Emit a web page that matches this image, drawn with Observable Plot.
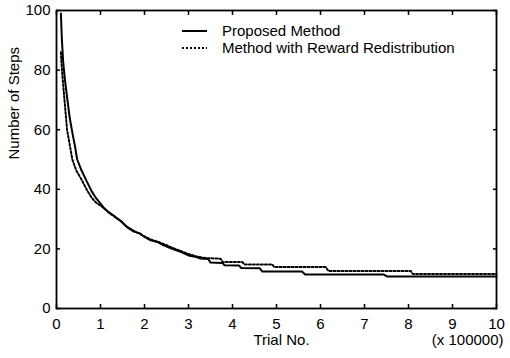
<!DOCTYPE html>
<html><head><meta charset="utf-8">
<script src="https://cdn.jsdelivr.net/npm/d3@7"></script>
<script src="https://cdn.jsdelivr.net/npm/@observablehq/plot@0.6"></script>
<style>body{margin:0;background:#fff}</style>
</head><body><div id="chart"></div>
<script>
// Data
const proposedTrial = [0.10,0.12,0.15,0.19,0.24,0.30,0.36,0.42,0.47,0.57,0.66,0.80,0.90,1.00,1.10,1.20,1.30,1.38,1.45,1.50,1.60,1.76,1.90,2.00,2.14,2.30,2.44,2.60,2.82,3.00,3.15,3.27,3.45,3.50,3.77,3.82,4.15,4.20,4.62,4.68,5.58,5.65,7.44,7.52,10.0];
const proposedSteps = [99,91,83,77,71,64,59,54.5,50,46.3,43.5,39.3,37,35.2,33.3,32.2,31.2,30.2,29.5,28.8,27.3,25.8,25.2,24,22.9,22.3,21.2,20.2,19,17.8,17.4,16.8,16.6,15.4,15.3,14.5,14.4,13.6,13.5,12.4,12.4,11.4,11.4,10.7,10.7];
const redistTrial = [0.10,0.11,0.14,0.17,0.24,0.30,0.36,0.45,0.58,0.70,0.81,0.90,1.00,1.10,1.20,1.30,1.45,1.60,1.76,1.90,2.00,2.14,2.30,2.44,2.60,2.82,3.00,3.20,3.40,3.73,3.78,4.22,4.27,4.90,4.95,6.12,6.18,8.05,8.10,10.0];
const redistSteps = [86,83,77,72,60,55,50,46.3,43,39.5,37,35.5,34.5,33.5,32,31,29.5,27.5,26,25,24.2,23.2,22.4,21.6,20.6,19.3,18.3,17.4,16.9,16.7,15.6,15.6,14.8,14.8,13.9,13.9,12.6,12.6,11.6,11.6];
const seriesNames = ["Proposed Method", "Method with Reward Redistribution"];
const xTicks = [0,1,2,3,4,5,6,7,8,9,10];
const yTicks = [0,20,40,60,80,100];
const xLabel = "Trial No.";
const xUnit = "(x 100000)";
const yLabel = "Number of Steps";

const proposed = proposedTrial.map((t, i) => ({t, s: proposedSteps[i]}));
const redist = redistTrial.map((t, i) => ({t, s: redistSteps[i]}));
const font = "'Liberation Sans', Arial, Helvetica, sans-serif";
const fs = 15;
const noText = () => "";

const plot = Plot.plot({
  width: 510, height: 358,
  marginLeft: 56, marginRight: 14, marginTop: 10, marginBottom: 50,
  style: {fontFamily: font, fontSize: fs + "px", background: "#fff", color: "#000"},
  x: {domain: [0, 10]},
  y: {domain: [0, 100]},
  marks: [
    Plot.axisX(xTicks, {anchor: "bottom", tickSize: 0, tickPadding: 10, label: null, fontSize: fs}),
    Plot.axisY(yTicks, {anchor: "left", tickSize: 0, tickPadding: 6, label: null, fontSize: fs}),
    Plot.axisX(xTicks, {anchor: "bottom", tickSize: -4, tickFormat: noText, label: null, strokeWidth: 1.5}),
    Plot.axisX(xTicks, {anchor: "top", tickSize: -4, tickFormat: noText, label: null, strokeWidth: 1.5}),
    Plot.axisY(yTicks, {anchor: "left", tickSize: -4, tickFormat: noText, label: null, strokeWidth: 1.5}),
    Plot.axisY(yTicks, {anchor: "right", tickSize: -4, tickFormat: noText, label: null, strokeWidth: 1.5}),
    Plot.line(redist, {x: "t", y: "s", stroke: "#000", strokeWidth: 2, strokeDasharray: "2,2"}),
    Plot.line(proposed, {x: "t", y: "s", stroke: "#000", strokeWidth: 2}),
    Plot.frame({stroke: "#000", strokeWidth: 1.8}),
    Plot.text([xLabel], {frameAnchor: "bottom", dx: 5, dy: 32, lineAnchor: "middle", fontSize: fs}),
    Plot.text([xUnit], {frameAnchor: "bottom-right", textAnchor: "end", dx: 7, dy: 32, lineAnchor: "middle", fontSize: fs}),
    Plot.text([yLabel], {frameAnchor: "left", rotate: -90, dx: -42, lineAnchor: "middle", fontSize: fs})
  ]
});

// Legend (no box), drawn inside the frame near the top
const svg = d3.select(plot);
const lg = svg.append("g").attr("font-family", font).attr("font-size", fs).attr("text-anchor", "start");
seriesNames.forEach((name, i) => {
  const y = 31 + i * 17;
  lg.append("line").attr("x1", 182).attr("x2", 207).attr("y1", y).attr("y2", y)
    .attr("stroke", "#000").attr("stroke-width", 2)
    .attr("stroke-dasharray", i ? "2,2" : null);
  lg.append("text").attr("x", 222).attr("y", y).attr("dy", "0.35em")
    .attr("text-anchor", "start").attr("fill", "#000").text(name);
});

document.getElementById("chart").appendChild(plot);
</script>
</body></html>
